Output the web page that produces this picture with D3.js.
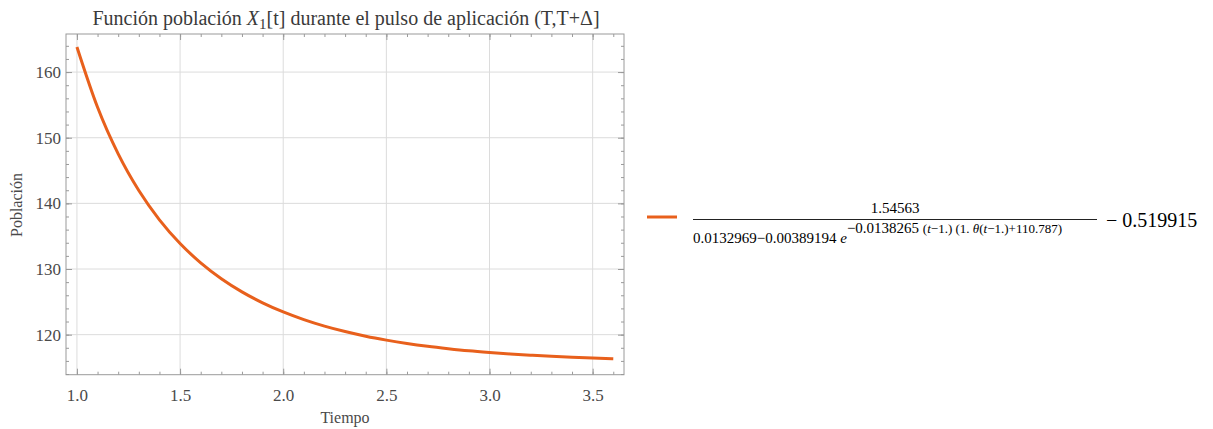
<!DOCTYPE html>
<html>
<head>
<meta charset="utf-8">
<script src="https://cdn.jsdelivr.net/npm/d3@7"></script>
<style>
  body { margin: 0; background: #fff; }
  svg, svg text { font-family: "Liberation Serif", "DejaVu Serif", serif !important; }
</style>
</head>
<body>
<div class="container"></div>
<script>
const w = 1213;
const h = 429;

// curve, t from 1.0 to 3.6 in steps of 0.1
const tiempo = [1.0, 1.1, 1.2, 1.3, 1.4, 1.5, 1.6, 1.7, 1.8, 1.9, 2.0, 2.1, 2.2, 2.3,
    2.4, 2.5, 2.6, 2.7, 2.8, 2.9, 3.0, 3.1, 3.2, 3.3, 3.4, 3.5, 3.6];
const poblacion = [163.82, 154.63, 147.53, 141.95, 137.49, 133.88, 130.94, 128.52, 126.52,
    124.85, 123.46, 122.29, 121.30, 120.47, 119.76, 119.17, 118.66, 118.23, 117.87,
    117.55, 117.29, 117.06, 116.87, 116.70, 116.56, 116.44, 116.34];

const xTicks = [1.0, 1.5, 2.0, 2.5, 3.0, 3.5];
const yTicks = [120, 130, 140, 150, 160];
const xMinor = d3.range(10, 37).map(d => d / 10);
const yMinor = d3.range(114, 166, 2);

const plot = { left: 66, right: 624, top: 34, bottom: 374.7 };
const lineColor = '#e8601c';
const frameColor = '#9a9a9a';
const labelColor = '#4a4a4a';
const serif = '"Liberation Serif", serif';

const svg = d3.select('.container')
    .append('svg')
    .attr('width', w)
    .attr('height', h)
    .attr('font-family', serif);

const xScale = d3.scaleLinear().domain([0.947, 3.652]).range([plot.left, plot.right]);
const yScale = d3.scaleLinear().domain([113.9, 165.8]).range([plot.bottom, plot.top]);

// grid
svg.append('g')
    .selectAll('line')
    .data(xTicks)
    .join('line')
    .attr('x1', d => xScale(d)).attr('x2', d => xScale(d))
    .attr('y1', plot.top).attr('y2', plot.bottom)
    .attr('stroke', '#dcdcdc').attr('stroke-width', 1);
svg.append('g')
    .selectAll('line')
    .data(yTicks)
    .join('line')
    .attr('x1', plot.left).attr('x2', plot.right)
    .attr('y1', d => yScale(d)).attr('y2', d => yScale(d))
    .attr('stroke', '#dcdcdc').attr('stroke-width', 1);

// frame ticks on all four sides, pointing inward
const styleAxis = g => {
    g.attr('font-family', serif).attr('font-size', 17);
    g.select('.domain').remove();
    g.selectAll('.tick line').attr('stroke', frameColor);
    g.selectAll('.tick text').attr('fill', labelColor);
};

svg.append('g').attr('transform', `translate(0,${plot.bottom})`)
    .call(d3.axisBottom(xScale).tickValues(xMinor).tickSize(-3).tickFormat(''))
    .call(styleAxis);
svg.append('g').attr('transform', `translate(0,${plot.bottom})`)
    .call(d3.axisBottom(xScale).tickValues(xTicks).tickSize(-6).tickPadding(14).tickFormat(d3.format('.1f')))
    .call(styleAxis);
svg.append('g').attr('transform', `translate(0,${plot.top})`)
    .call(d3.axisTop(xScale).tickValues(xMinor).tickSize(-3).tickFormat(''))
    .call(styleAxis);
svg.append('g').attr('transform', `translate(0,${plot.top})`)
    .call(d3.axisTop(xScale).tickValues(xTicks).tickSize(-6).tickFormat(''))
    .call(styleAxis);

svg.append('g').attr('transform', `translate(${plot.left},0)`)
    .call(d3.axisLeft(yScale).tickValues(yMinor).tickSize(-3).tickFormat(''))
    .call(styleAxis);
svg.append('g').attr('transform', `translate(${plot.left},0)`)
    .call(d3.axisLeft(yScale).tickValues(yTicks).tickSize(-6).tickPadding(5))
    .call(styleAxis);
svg.append('g').attr('transform', `translate(${plot.right},0)`)
    .call(d3.axisRight(yScale).tickValues(yMinor).tickSize(-3).tickFormat(''))
    .call(styleAxis);
svg.append('g').attr('transform', `translate(${plot.right},0)`)
    .call(d3.axisRight(yScale).tickValues(yTicks).tickSize(-6).tickFormat(''))
    .call(styleAxis);

svg.append('rect')
    .attr('x', plot.left).attr('y', plot.top)
    .attr('width', plot.right - plot.left).attr('height', plot.bottom - plot.top)
    .attr('fill', 'none').attr('stroke', frameColor).attr('stroke-width', 1);

// curve
const pts = tiempo.map((t, i) => [t, poblacion[i]]);
svg.append('path')
    .datum(pts)
    .attr('fill', 'none')
    .attr('stroke', lineColor)
    .attr('stroke-width', 3)
    .attr('d', d3.line().x(d => xScale(d[0])).y(d => yScale(d[1])).curve(d3.curveMonotoneX));

// title
const title = svg.append('text')
    .attr('x', 346)
    .attr('y', 25)
    .attr('text-anchor', 'middle')
    .attr('fill', '#3a3a3a')
    .attr('font-size', 20);
title.append('tspan').text('Función población ');
title.append('tspan').attr('font-style', 'italic').text('X');
title.append('tspan').attr('dy', 4).attr('font-size', 15).text('1');
title.append('tspan').attr('dy', -4).text('[t] durante el pulso de aplicación (T,T+Δ]');

// axis labels
svg.append('text')
    .text('Tiempo')
    .attr('x', (plot.left + plot.right) / 2)
    .attr('y', 423)
    .attr('text-anchor', 'middle')
    .attr('fill', labelColor)
    .attr('font-size', 16);

svg.append('text')
    .text('Población')
    .attr('transform', 'translate(22,205) rotate(-90)')
    .attr('text-anchor', 'middle')
    .attr('fill', labelColor)
    .attr('font-size', 16);

// legend
svg.append('line')
    .attr('x1', 647).attr('x2', 677)
    .attr('y1', 217).attr('y2', 217)
    .attr('stroke', lineColor).attr('stroke-width', 3);

svg.append('text')
    .text('1.54563')
    .attr('x', 895).attr('y', 213)
    .attr('text-anchor', 'middle')
    .attr('font-size', 15);

svg.append('line')
    .attr('x1', 693).attr('x2', 1097)
    .attr('y1', 219.5).attr('y2', 219.5)
    .attr('stroke', '#222').attr('stroke-width', 1);

const den = svg.append('text')
    .attr('x', 693).attr('y', 243)
    .attr('font-size', 15);
den.append('tspan').text('0.0132969−0.00389194 ');
den.append('tspan').attr('font-style', 'italic').text('e');
const exp = den.append('tspan').attr('dy', -10);
exp.append('tspan').attr('font-size', 15).text('−0.0138265 ');
exp.append('tspan').attr('font-size', 13).text('(');
exp.append('tspan').attr('font-size', 13).attr('font-style', 'italic').text('t');
exp.append('tspan').attr('font-size', 13).text('−1.) (1. ');
exp.append('tspan').attr('font-size', 13).attr('font-style', 'italic').text('θ');
exp.append('tspan').attr('font-size', 13).text('(');
exp.append('tspan').attr('font-size', 13).attr('font-style', 'italic').text('t');
exp.append('tspan').attr('font-size', 13).text('−1.)+110.787)');

svg.append('text')
    .text('− 0.519915')
    .attr('x', 1106).attr('y', 227)
    .attr('font-size', 20);
</script>
</body>
</html>
